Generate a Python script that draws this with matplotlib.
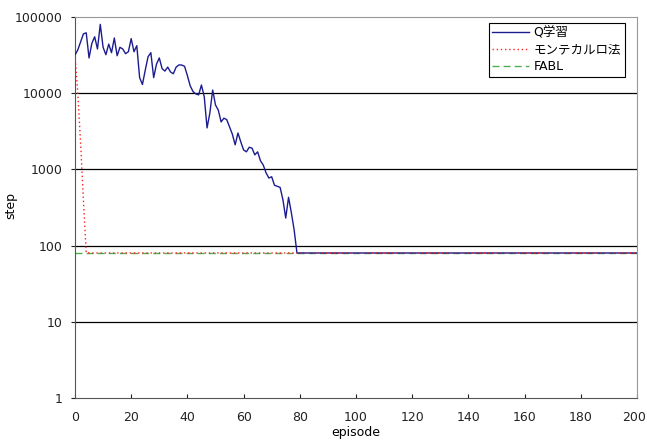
import matplotlib
matplotlib.use('Agg')
import matplotlib.pyplot as plt
import matplotlib.transforms as mtransforms

plt.rcParams['font.family'] = ['DejaVu Sans', 'Noto Sans CJK JP']

# Q-learning steps per episode (episodes 0..79)
q_steps = [31600, 37000, 47000, 60000, 62000, 29000, 45000, 55000, 38000, 80000,
           40000, 32000, 44000, 34000, 53000, 31000, 40000, 38000, 33000, 35000,
           52000, 35000, 42000, 16000, 13000, 20000, 30000, 34000, 16000, 24000,
           29000, 21000, 19500, 22000, 19000, 18000, 22000, 23500, 23400, 22500,
           17000, 12500, 10500, 9800, 9500, 12800, 9000, 3500, 5500, 11000,
           7000, 6000, 4200, 4700, 4500, 3600, 2900, 2100, 3000, 2300,
           1800, 1700, 1950, 1900, 1550, 1700, 1300, 1140, 900, 770,
           800, 620, 600, 580, 400, 230, 430, 270, 160, 80]
mc_steps = [31600, 10000, 2200, 400, 80]
fabl_step = 80
n_episodes = 201

# pad every series with the converged value up to episode 200
q_all = q_steps + [80] * (n_episodes - len(q_steps))
mc_all = mc_steps + [80] * (n_episodes - len(mc_steps))
fabl_all = [fabl_step] * n_episodes
episodes = list(range(n_episodes))

xticks = list(range(0, 201, 20))
yticks = [1, 10, 100, 1000, 10000, 100000]
ylabels = ['1', '10', '100', '1000', '10000', '100000']

fig = plt.figure(figsize=(6.47, 4.41), dpi=100)
ax = fig.add_axes([0.1159, 0.0975, 0.8686, 0.864])

ax.plot(episodes, q_all, color='#1c1c90', lw=1.0, label='Q学習', zorder=3)
ax.plot(episodes, mc_all, color='#ff2020', lw=1.0, ls=(0, (1, 2)), label='モンテカルロ法', zorder=4)
ax.plot(episodes, fabl_all, color='#4caf50', lw=1.0, ls=(0, (5, 3)), label='FABL', zorder=2)

ax.set_yscale('log')
ax.set_ylim(1, 100000)
ax.set_xlim(0, 200)
ax.set_yticks(yticks)
ax.set_yticklabels(ylabels)
ax.minorticks_off()
ax.set_xticks(xticks)

for v in yticks[1:-1]:
    ax.axhline(v, color='black', lw=0.9, zorder=1)

ax.tick_params(axis='x', direction='in', length=3, labelsize=9, pad=9, colors='#222222')
ax.tick_params(axis='y', direction='out', length=3, labelsize=9, pad=6, colors='#222222')

# keep the "200" label inside the figure
last = ax.get_xticklabels()[-1]
last.set_transform(last.get_transform() + mtransforms.ScaledTranslation(-3 / 100, 0, fig.dpi_scale_trans))

ax.spines['left'].set_color('#555555')
ax.spines['bottom'].set_color('#555555')
ax.spines['top'].set_color('#999999')
ax.spines['right'].set_color('#999999')

ax.set_xlabel('episode', fontsize=9)
ax.xaxis.set_label_coords(0.5, -0.074)
ax.set_ylabel('step', fontsize=9, va='center')
ax.yaxis.set_label_coords(-0.115, 0.506)

leg = ax.legend(loc='upper right', bbox_to_anchor=(0.9786, 0.984), borderaxespad=0,
                fontsize=9, fancybox=False, framealpha=1, edgecolor='black',
                handlelength=2.9, borderpad=0.3, labelspacing=0.3, handletextpad=0.4)
leg.get_frame().set_linewidth(0.8)

fig.savefig('out.png', dpi=100)
